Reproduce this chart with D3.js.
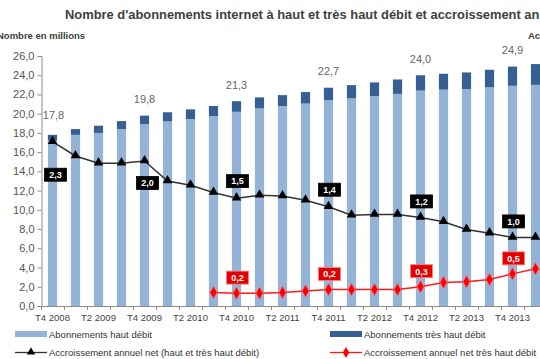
<!DOCTYPE html>
<html><head><meta charset="utf-8">
<script src="https://cdn.jsdelivr.net/npm/d3@7"></script>
<style>
html,body{margin:0;padding:0;background:#fff;overflow:hidden;}
svg{display:block;font-family:Arial,"Liberation Sans",sans-serif;}
</style></head>
<body>
<svg id="chart" width="540" height="359"></svg>
<script>
const categories = ['T4 2008','T1 2009','T2 2009','T3 2009','T4 2009','T1 2010','T2 2010','T3 2010','T4 2010','T1 2011','T2 2011','T3 2011','T4 2011','T1 2012','T2 2012','T3 2012','T4 2012','T1 2013','T2 2013','T3 2013','T4 2013','T1 2014'];
const highSpeed = [17.2, 17.8, 18.0, 18.4, 18.9, 19.2, 19.45, 19.75, 20.2, 20.55, 20.8, 21.05, 21.4, 21.6, 21.83, 22.06, 22.4, 22.5, 22.56, 22.74, 22.9, 23.0];
const veryHighSpeed = [0.6, 0.6, 0.75, 0.83, 0.9, 0.95, 1.0, 1.05, 1.1, 1.15, 1.13, 1.2, 1.3, 1.37, 1.42, 1.5, 1.6, 1.65, 1.73, 1.83, 2.0, 2.16];
const netGrowthAll = [2.3, 2.10, 2.00, 2.00, 2.03, 1.75, 1.69, 1.59, 1.51, 1.55, 1.54, 1.48, 1.39, 1.27, 1.28, 1.28, 1.24, 1.18, 1.07, 1.02, 0.96, 0.96];
const netGrowthVHS = [null, null, null, null, null, null, null, 0.19, 0.18, 0.18, 0.19, 0.21, 0.23, 0.23, 0.23, 0.23, 0.27, 0.33, 0.34, 0.37, 0.45, 0.52];
const totalLabelCats = ['T4 2008','T4 2009','T4 2010','T4 2011','T4 2012','T4 2013'];
const totalLabelTexts = ['17,8','19,8','21,3','22,7','24,0','24,9'];
const allLabelCats = ['T4 2008','T4 2009','T4 2010','T4 2011','T4 2012','T4 2013'];
const allLabelTexts = ['2,3','2,0','1,5','1,4','1,2','1,0'];
const vhsLabelCats = ['T4 2010','T4 2011','T4 2012','T4 2013'];
const vhsLabelTexts = ['0,2','0,2','0,3','0,5'];
const leftTicks = [0,2,4,6,8,10,12,14,16,18,20,22,24,26];
const xTickLabels = ['T4 2008','T2 2009','T4 2009','T2 2010','T4 2010','T2 2011','T4 2011','T2 2012','T4 2012','T2 2013','T4 2013'];

const svg = d3.select('#chart');
const x0 = 41, yBottom = 306, yTop = 56;
const step = 23;
const x = d3.scaleBand().domain(categories).range([x0, x0 + step*categories.length]).paddingInner(0.6).paddingOuter(0.3);
const y = d3.scaleLinear().domain([0, 26]).range([yBottom, yTop]);
const y2 = d3.scaleLinear().domain([0, 3.5]).range([yBottom, yTop]);
const cx = c => x(c) + x.bandwidth()/2;
const fmt = v => d3.format('.1f')(v).replace('.', ',');

const lightCol = '#95b3d7', darkCol = '#376092';
const axisCol = '#8c8c8c', textCol = '#555';

// Title
svg.append('text').attr('x', 65).attr('y', 19).attr('font-size', 12.9).attr('font-weight', 'bold')
  .attr('fill', '#404040').text("Nombre d'abonnements internet à haut et très haut débit et accroissement annuel net");
svg.append('text').attr('x', -3).attr('y', 39).attr('font-size', 9.5).attr('font-weight', 'bold')
  .attr('fill', '#404040').text('Nombre en millions');
svg.append('text').attr('x', 528).attr('y', 39).attr('font-size', 9.5).attr('font-weight', 'bold')
  .attr('fill', '#404040').text('Accroissement annuel en millions');

// Bars
const g = svg.append('g');
categories.forEach((c, i) => {
  g.append('rect').attr('x', x(c)).attr('width', x.bandwidth())
    .attr('y', y(highSpeed[i])).attr('height', y(0) - y(highSpeed[i])).attr('fill', lightCol);
  g.append('rect').attr('x', x(c)).attr('width', x.bandwidth())
    .attr('y', y(highSpeed[i] + veryHighSpeed[i])).attr('height', y(highSpeed[i]) - y(highSpeed[i] + veryHighSpeed[i])).attr('fill', darkCol);
});

// Y axis
const yAxis = d3.axisLeft(y).tickValues(leftTicks).tickSize(4).tickPadding(3).tickFormat(fmt);
const ya = svg.append('g').attr('transform', `translate(${x0 + 0.5},0)`).call(yAxis);
ya.select('.domain').attr('stroke', axisCol);
ya.selectAll('.tick line').attr('stroke', axisCol);
ya.selectAll('.tick text').attr('fill', textCol).attr('font-size', 11).attr('font-family', 'Arial, "Liberation Sans", sans-serif');

// X axis
svg.append('line').attr('x1', x0).attr('x2', 540).attr('y1', yBottom + 0.5).attr('y2', yBottom + 0.5).attr('stroke', axisCol);
const bounds = categories.map((c, i) => x0 + step * i);
bounds.push(x0 + step*categories.length);
bounds.forEach(b => {
  svg.append('line').attr('x1', b + 0.5).attr('x2', b + 0.5).attr('y1', yBottom).attr('y2', yBottom + 4).attr('stroke', axisCol);
});
xTickLabels.forEach(c => {
  svg.append('text').attr('x', cx(c)).attr('y', 321).attr('text-anchor', 'middle')
    .attr('font-size', 9.5).attr('fill', '#444').text(c);
});

// Total labels
totalLabelCats.forEach((c, k) => {
  const i = categories.indexOf(c);
  const tot = highSpeed[i] + veryHighSpeed[i];
  svg.append('text').attr('x', cx(c) + (k === 0 ? 1 : 0)).attr('y', y(tot) - (k === 0 ? 16 : 12.5)).attr('text-anchor', 'middle')
    .attr('font-size', 11).attr('fill', '#666').text(totalLabelTexts[k]);
});

// Lines
const lineAll = d3.line().x((d, i) => cx(categories[i])).y(d => y2(d));
svg.append('path').datum(netGrowthAll).attr('d', lineAll).attr('fill', 'none').attr('stroke', '#333').attr('stroke-width', 1.5);
netGrowthAll.forEach((v, i) => {
  svg.append('path').attr('d', d3.symbol().type(d3.symbolTriangle).size(40)())
    .attr('transform', `translate(${cx(categories[i])},${y2(v) - 0.5})`).attr('fill', '#000');
});
const lineVHS = d3.line().defined(d => d !== null).x((d, i) => cx(categories[i])).y(d => y2(d));
svg.append('path').datum(netGrowthVHS).attr('d', lineVHS).attr('fill', 'none').attr('stroke', '#ff1a1a').attr('stroke-width', 1.5);
netGrowthVHS.forEach((v, i) => {
  if (v === null) return;
  svg.append('path').attr('d', d3.symbol().type(d3.symbolDiamond).size(45)())
    .attr('transform', `translate(${cx(categories[i])},${y2(v)})`).attr('fill', '#ff0000').attr('stroke', '#ff7070').attr('stroke-width', 0.8);
});

// Value boxes
function box(xc, yc, txt, fill) {
  svg.append('rect').attr('x', xc - 11).attr('y', yc - 6.5).attr('width', 22).attr('height', 13).attr('fill', fill)
    .attr('stroke', fill === '#000' ? '#000' : '#ff8080').attr('stroke-width', 0.8);
  svg.append('text').attr('x', xc).attr('y', yc + 3.3).attr('text-anchor', 'middle').attr('font-size', 9)
    .attr('font-weight', 'bold').attr('fill', '#fff').text(txt);
}
const allDy = [33, 22, -17, -17, -16, -16];
allLabelCats.forEach((c, k) => {
  const i = categories.indexOf(c);
  box(cx(c) + (k < 2 ? 3 : 1), y2(netGrowthAll[i]) + allDy[k], allLabelTexts[k], '#000');
});
vhsLabelCats.forEach((c, k) => {
  const i = categories.indexOf(c);
  box(cx(c) + 1, y2(netGrowthVHS[i]) - 15.5, vhsLabelTexts[k], '#e30000');
});

// Legend
const lg = svg.append('g').attr('font-size', 9.5).attr('fill', '#333');
lg.append('rect').attr('x', 15).attr('y', 331).attr('width', 32).attr('height', 6).attr('fill', lightCol);
lg.append('text').attr('x', 49).attr('y', 337.5).text('Abonnements haut débit');
lg.append('rect').attr('x', 330).attr('y', 331).attr('width', 32).attr('height', 6).attr('fill', darkCol);
lg.append('text').attr('x', 364).attr('y', 337.5).text('Abonnements très haut débit');
lg.append('line').attr('x1', 15).attr('x2', 47).attr('y1', 352.5).attr('y2', 352.5).attr('stroke', '#333').attr('stroke-width', 1.3);
lg.append('path').attr('d', d3.symbol().type(d3.symbolTriangle).size(30)()).attr('transform', 'translate(31,352)').attr('fill', '#000');
lg.append('text').attr('x', 49).attr('y', 355.5).text('Accroissement annuel net (haut et très haut débit)');
lg.append('line').attr('x1', 330).attr('x2', 362).attr('y1', 352.5).attr('y2', 352.5).attr('stroke', '#ff1a1a').attr('stroke-width', 1.3);
lg.append('path').attr('d', d3.symbol().type(d3.symbolDiamond).size(35)()).attr('transform', 'translate(346,352.5)').attr('fill', '#ff0000');
lg.append('text').attr('x', 364).attr('y', 355.5).text('Accroissement annuel net très haut débit');
</script>
</body></html>
